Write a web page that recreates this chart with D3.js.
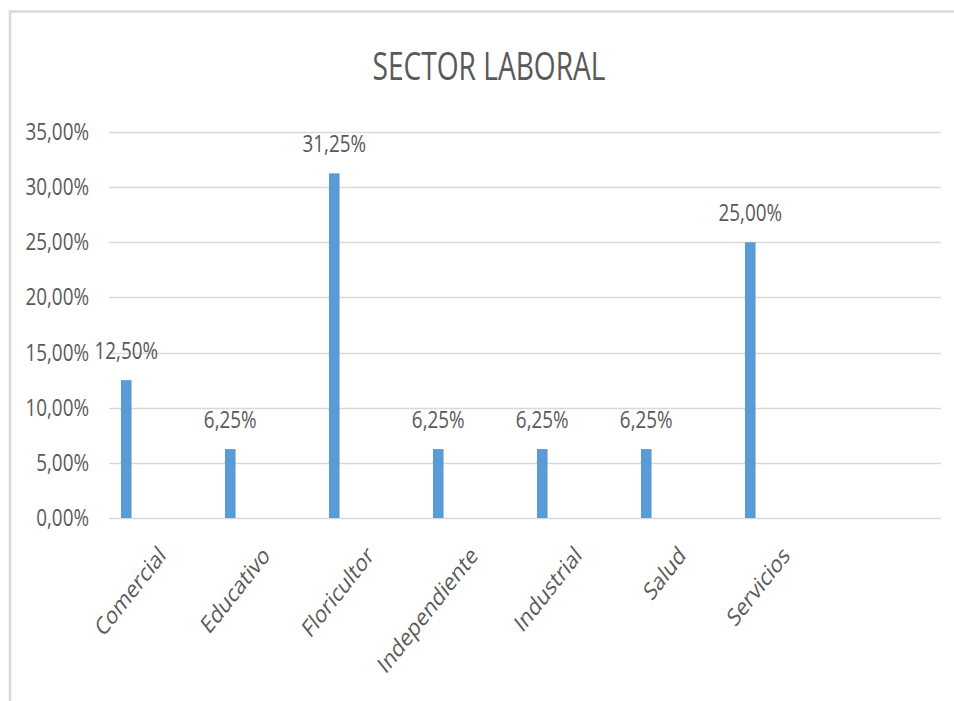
<!DOCTYPE html>
<html lang="es">
<head>
  <meta charset="UTF-8">
  <title>Sector laboral</title>
  <script src="https://d3js.org/d3.v7.min.js"></script>
  <style>
    body {
      margin: 0;
      background: #fff;
      font-family: "Open Sans", sans-serif;
    }
    text { fill: #595959; }
  </style>
</head>
<body>
  <div id="chart"></div>

  <script>
    const categories = ["Comercial", "Educativo", "Floricultor", "Independiente", "Industrial", "Salud", "Servicios", ""];
    const values = [0.125, 0.0625, 0.3125, 0.0625, 0.0625, 0.0625, 0.25];
    const yTicks = [0, 0.05, 0.10, 0.15, 0.20, 0.25, 0.30, 0.35];

    const width = 954, height = 701;
    const margin = { top: 132, right: 13, bottom: 183, left: 109 };
    const sx = 0.82; // the picture is squeezed horizontally

    const locale = d3.formatLocale({ decimal: ",", thousands: ".", grouping: [3], currency: ["", "€"] });
    const pct = locale.format(".2%");

    const svg = d3.select("#chart")
      .append("svg")
      .attr("width", width)
      .attr("height", height);

    // chart frame
    svg.append("path")
      .attr("d", `M10,${height} V11.5 H${width}`)
      .attr("fill", "none")
      .attr("stroke", "#d9d9d9")
      .attr("stroke-width", 2.5);

    const x = d3.scaleBand()
      .domain(categories)
      .range([margin.left, width - margin.right]);

    const y = d3.scaleLinear()
      .domain([0, 0.35])
      .range([height - margin.bottom, margin.top]);

    svg.append("text")
      .attr("transform", `translate(489,80) scale(0.74,1)`)
      .attr("text-anchor", "middle")
      .style("font-size", "38px")
      .text("SECTOR LABORAL");

    // gridlines
    svg.append("g")
      .selectAll("line")
      .data(yTicks)
      .join("line")
      .attr("x1", x.range()[0])
      .attr("x2", x.range()[1])
      .attr("y1", d => Math.round(y(d)) + 0.5)
      .attr("y2", d => Math.round(y(d)) + 0.5)
      .attr("stroke", "#d9d9d9")
      .attr("stroke-width", 1.5);

    // y tick labels
    svg.append("g")
      .selectAll("text")
      .data(yTicks)
      .join("text")
      .attr("transform", d => `translate(89,${y(d) + 8}) scale(${sx},1)`)
      .attr("text-anchor", "end")
      .style("font-size", "23px")
      .text(d => pct(d));

    const bw = x.bandwidth();
    const data = values.map((v, i) => ({ cat: categories[i], v }));

    svg.append("g")
      .selectAll("rect")
      .data(data)
      .join("rect")
      .attr("x", d => x(d.cat) + bw * 0.115)
      .attr("width", bw * 0.102)
      .attr("y", d => y(d.v))
      .attr("height", d => y(0) - y(d.v))
      .attr("fill", "#5b9bd5");

    // value labels
    svg.append("g")
      .selectAll("text")
      .data(data)
      .join("text")
      .attr("transform", d => `translate(${x(d.cat) + bw * 0.166},${y(d.v) - 21}) scale(${sx},1)`)
      .attr("text-anchor", "middle")
      .style("font-size", "23px")
      .text(d => pct(d.v));

    // category labels
    svg.append("g")
      .selectAll("text")
      .data(categories.filter(c => c))
      .join("text")
      .attr("transform", c => `translate(${x(c) + bw / 2 + 6},557) scale(0.79,1) rotate(-45)`)
      .attr("text-anchor", "end")
      .style("font-size", "24.5px")
      .text(c => c);
  </script>
</body>
</html>
